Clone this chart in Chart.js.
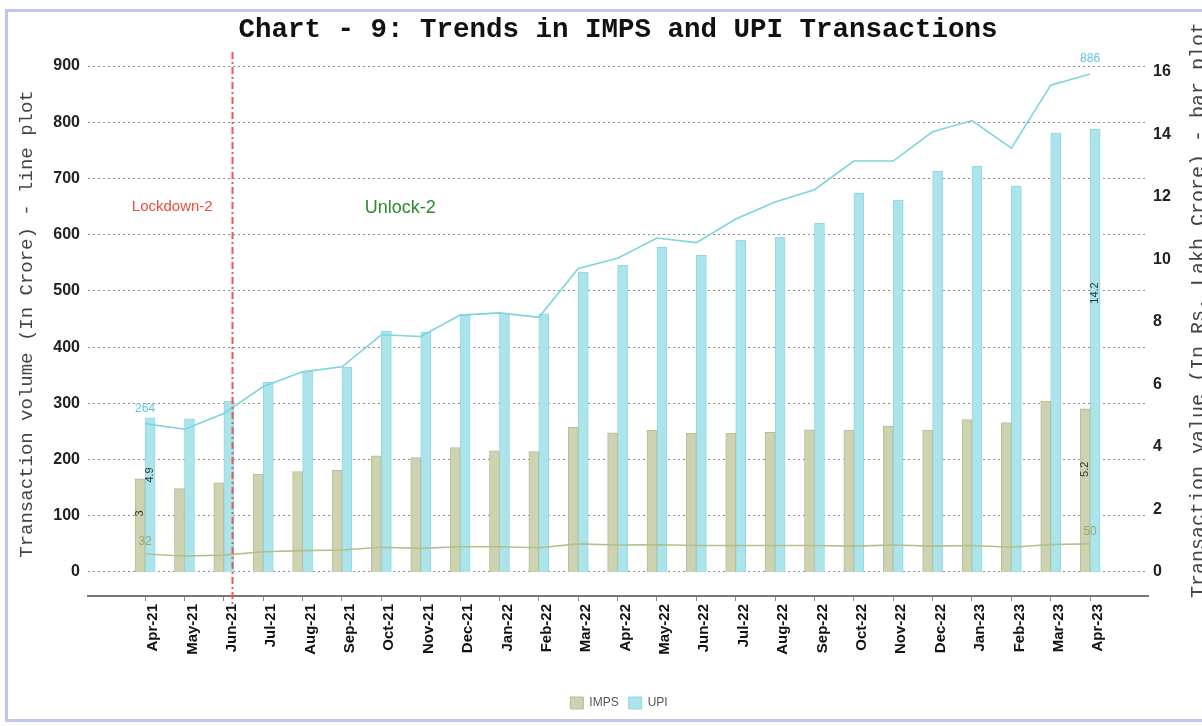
<!DOCTYPE html>
<html>
<head>
<meta charset="utf-8">
<script src="https://cdn.jsdelivr.net/npm/chart.js@4.4.1/dist/chart.umd.min.js"></script>
<style>
  html, body { margin: 0; padding: 0; background: #fff; }
  #wrap { position: relative; width: 1202px; height: 726px; overflow: hidden; }
  #frame { position: absolute; left: 5px; top: 9px; width: 1210px; height: 707px;
           border: 3px solid #bfc6ec; pointer-events: none; }
</style>
</head>
<body>
<div id="wrap">
  <canvas id="chart" width="1202" height="726"></canvas>
  <div id="frame"></div>
</div>
<script>
// months on the x axis
var months = ["Apr-21","May-21","Jun-21","Jul-21","Aug-21","Sep-21","Oct-21","Nov-21","Dec-21",
              "Jan-22","Feb-22","Mar-22","Apr-22","May-22","Jun-22","Jul-22","Aug-22","Sep-22",
              "Oct-22","Nov-22","Dec-22","Jan-23","Feb-23","Mar-23","Apr-23"];

// volume, in crore (line plot, left axis)
var upiVolume  = [264, 254, 282, 330, 356, 365, 422, 419, 457, 461, 453, 540, 558,
                  594, 586, 628, 658, 680, 731, 731, 783, 803, 754, 866, 886];
var impsVolume = [32, 28.5, 30, 36, 38, 39, 44, 42, 45, 45, 43, 50, 48,
                  48.5, 47, 47, 47, 47, 46, 48, 46, 47, 44, 49, 50];

// value, in Rs. lakh crore (bar plot, right axis)
var upiValue  = [4.93, 4.9, 5.47, 6.07, 6.43, 6.55, 7.71, 7.67, 8.25, 8.28, 8.26, 9.6, 9.82,
                 10.39, 10.13, 10.62, 10.72, 11.16, 12.12, 11.9, 12.83, 12.98, 12.34, 14.05, 14.17];
var impsValue = [2.98, 2.67, 2.85, 3.13, 3.21, 3.25, 3.72, 3.66, 3.98, 3.88, 3.85, 4.63, 4.45,
                 4.53, 4.44, 4.44, 4.47, 4.55, 4.54, 4.67, 4.54, 4.88, 4.78, 5.46, 5.22];

var leftTicks  = [0, 100, 200, 300, 400, 500, 600, 700, 800, 900];
var rightTicks = [0, 2, 4, 6, 8, 10, 12, 14, 16];

var lockdownAt = 2.22;   // divider between the two phases, in month index
var phases = [
    { text: "Lockdown-2", x: 0.69, y: 649, color: "#f04a3c", size: 15 },
    { text: "Unlock-2",   x: 6.48, y: 648, color: "#2d8a2d", size: 18 }
];

var SANS = '"Liberation Sans", Arial, sans-serif';
var MONO = '"Liberation Mono", "Courier New", monospace';

function pts(arr) {
    return arr.map(function (v, i) { return { x: i, y: v }; });
}

function fmt(v) {
    return String(Number(v.toFixed(1)));
}

var decorPlugin = {
    id: 'decor',
    afterDatasetsDraw: function (chart) {
        var ctx = chart.ctx, area = chart.chartArea;
        var x = chart.scales.x, yL = chart.scales.y, yR = chart.scales.y1;
        var last = months.length - 1;
        ctx.save();

        // lockdown / unlock divider
        var lx = x.getPixelForValue(lockdownAt);
        ctx.strokeStyle = '#f0584c';
        ctx.lineWidth = 2;
        ctx.setLineDash([7, 3, 2, 3]);
        ctx.beginPath();
        ctx.moveTo(lx, area.top);
        ctx.lineTo(lx, area.bottom + 10);
        ctx.stroke();
        ctx.setLineDash([]);

        ctx.textAlign = 'center';
        ctx.textBaseline = 'middle';
        phases.forEach(function (p) {
            ctx.fillStyle = p.color;
            ctx.font = p.size + 'px ' + SANS;
            ctx.fillText(p.text, x.getPixelForValue(p.x), yL.getPixelForValue(p.y));
        });

        // first / last values of the lines
        ctx.font = '12px ' + SANS;
        ctx.fillStyle = '#5cc6d9';
        ctx.fillText(upiVolume[0], x.getPixelForValue(0), yL.getPixelForValue(upiVolume[0]) - 15);
        ctx.fillText(upiVolume[last], x.getPixelForValue(last), yL.getPixelForValue(upiVolume[last]) - 15);
        ctx.fillStyle = '#9aaa66';
        ctx.fillText(impsVolume[0], x.getPixelForValue(0), yL.getPixelForValue(impsVolume[0]) - 12);
        ctx.fillText(impsVolume[last], x.getPixelForValue(last), yL.getPixelForValue(impsVolume[last]) - 12);

        // first / last values of the bars, rotated
        ctx.font = '11px ' + SANS;
        ctx.fillStyle = '#333';
        function rot(txt, px, py) {
            ctx.save();
            ctx.translate(px, py);
            ctx.rotate(-Math.PI / 2);
            ctx.fillText(txt, 0, 0);
            ctx.restore();
        }
        rot(fmt(upiValue[0]), x.getPixelForValue(0) + 5, yR.getPixelForValue(upiValue[0] * 0.63));
        rot(fmt(impsValue[0]), x.getPixelForValue(0) - 5, yR.getPixelForValue(impsValue[0] * 0.63));
        rot(fmt(upiValue[last]), x.getPixelForValue(last) + 5, yR.getPixelForValue(upiValue[last] * 0.63));
        rot(fmt(impsValue[last]), x.getPixelForValue(last) - 5, yR.getPixelForValue(impsValue[last] * 0.63));

        ctx.restore();
    },
    afterDraw: function (chart) {
        var ctx = chart.ctx, area = chart.chartArea;
        var midY = (area.top + area.bottom) / 2;
        ctx.save();
        ctx.fillStyle = '#111';
        ctx.textAlign = 'center';
        ctx.textBaseline = 'middle';
        ctx.font = 'bold 27.5px ' + MONO;
        ctx.fillText('Chart - 9: Trends in IMPS and UPI Transactions', (area.left + area.right) / 2, 30);

        ctx.fillStyle = '#444';
        ctx.font = '19px ' + MONO;
        ctx.textBaseline = 'alphabetic';
        ctx.translate(32, midY);
        ctx.rotate(-Math.PI / 2);
        ctx.fillText('Transaction volume (In Crore) - line plot', 0, 0);
        ctx.restore();

        ctx.save();
        ctx.fillStyle = '#444';
        ctx.font = '20px ' + MONO;
        ctx.textAlign = 'center';
        ctx.textBaseline = 'alphabetic';
        ctx.translate(1204, midY - 14);
        ctx.rotate(-Math.PI / 2);
        ctx.fillText('Transaction value (In Rs. Lakh Crore) - bar plot', 0, 0);
        ctx.restore();
    }
};

var chart = new Chart(document.getElementById('chart').getContext('2d'), {
    type: 'bar',
    data: {
        datasets: [
            { type: 'line', label: 'UPI volume', data: pts(upiVolume), yAxisID: 'y',
              borderColor: '#7dd4e0', borderWidth: 1.6, pointRadius: 0, tension: 0 },
            { type: 'line', label: 'IMPS volume', data: pts(impsVolume), yAxisID: 'y',
              borderColor: '#b4bf8c', borderWidth: 1.6, pointRadius: 0, tension: 0 },
            { label: 'IMPS', data: pts(impsValue), yAxisID: 'y1', barThickness: 10,
              backgroundColor: '#cdd2b1', borderColor: '#b7bd94', borderWidth: 1 },
            { label: 'UPI', data: pts(upiValue), yAxisID: 'y1', barThickness: 10,
              backgroundColor: '#abe4eb', borderColor: '#8fd8e2', borderWidth: 1 }
        ]
    },
    options: {
        responsive: false,
        animation: false,
        devicePixelRatio: 1,
        layout: { padding: { top: 52, left: 36, right: 0, bottom: 7 } },
        plugins: {
            title: { display: false },
            tooltip: { enabled: false },
            legend: {
                display: true,
                position: 'bottom',
                labels: {
                    boxWidth: 13,
                    boxHeight: 12,
                    padding: 10,
                    color: '#555',
                    font: { family: SANS, size: 12 },
                    filter: function (item) { return item.datasetIndex >= 2; }
                }
            }
        },
        scales: {
            x: {
                type: 'linear',
                min: -1.45,
                max: 25.47,
                offset: false,
                afterBuildTicks: function (s) { s.ticks = months.map(function (m, i) { return { value: i }; }); },
                afterFit: function (s) { s.height = 91; },
                grid: { display: true, offset: false, drawOnChartArea: false, drawTicks: true, tickLength: 5, color: '#888' },
                border: { display: true, color: '#777', width: 2 },
                ticks: {
                    autoSkip: false,
                    minRotation: 90,
                    maxRotation: 90,
                    padding: 3,
                    labelOffset: 8,
                    color: '#111',
                    font: { family: SANS, size: 15, weight: 'bold' },
                    callback: function (v) { return months[v]; }
                }
            },
            y: {
                position: 'left',
                min: -42.7,
                max: 925,
                afterBuildTicks: function (s) { s.ticks = leftTicks.map(function (v) { return { value: v }; }); },
                afterFit: function (s) { s.width = 52; },
                grid: { color: '#8c8c8c', lineWidth: 1, drawTicks: false },
                border: { display: false, dash: [2, 3] },
                ticks: {
                    padding: 8,
                    color: '#222',
                    font: { family: SANS, size: 16, weight: 'bold' }
                }
            },
            y1: {
                position: 'right',
                min: -0.768,
                max: 16.64,
                afterBuildTicks: function (s) { s.ticks = rightTicks.map(function (v) { return { value: v }; }); },
                afterFit: function (s) { s.width = 54; },
                grid: { display: false, drawTicks: false },
                border: { display: false },
                ticks: {
                    padding: 5,
                    color: '#222',
                    font: { family: SANS, size: 16, weight: 'bold' }
                }
            }
        }
    },
    plugins: [decorPlugin]
});
</script>
</body>
</html>
